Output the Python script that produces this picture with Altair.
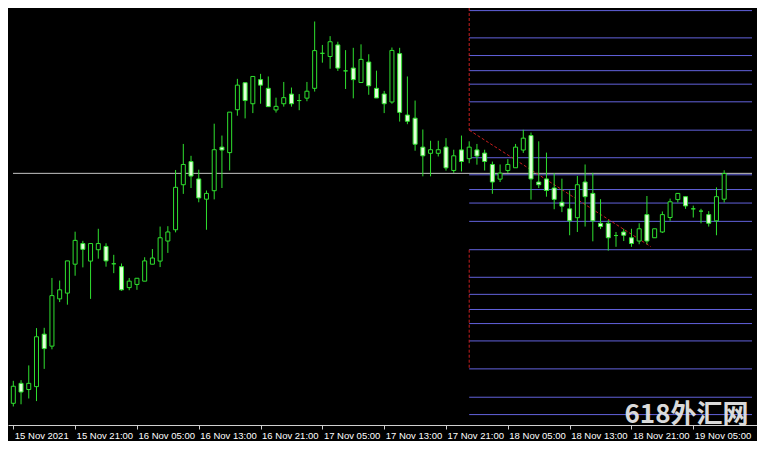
import altair as alt
import pandas as pd

# Hourly bars, index 0 = 15 Nov 2021 13:00. Values are chart levels read from the
# picture (measured downward from the top of the plot, so the y scale is reversed).
kind = ["bull","bear","bull","bull","bear","bull","bull","bull","bull","bear",
        "bull","bull","bear","doji","bear","bull","bull","bull","bull","bull",
        "bull","bull","bull","bear","bear","bull","bull","bear","bull","bull",
        "bear","bull","bear","bear","bull","bull","bear","doji","bull","bull",
        "doji","bull","bear","doji","bear","bull","bear","bear","bear","bull",
        "bear","bear","bear","bear","bull","bull","bear","bull","bear","bull",
        "bear","bear","bear","bull","bull","bull","bull","bear","bear","bear",
        "bear","bear","bear","bull","bear","bear","bear","bear","doji","bear",
        "bear","bull","bear","bull","bull","bull","bull","bear","doji","doji",
        "bear","bull","bull"]
body_top = [392.3,389.3,389.3,341,338.3,298.3,292.3,262.3,241,244.3,
            244.3,244.3,247.3,265.3,268.3,283.3,280.3,262.3,259.3,238.3,
            232.3,186,162.3,159.3,177.3,192.3,147,144.3,108,80,
            77.5,71,74.3,83.3,102,93,89.3,96,86.3,44.2,
            47,35,38.3,65.2,62.3,53.3,56,83.3,89.2,44,
            47.3,111,114.3,144.3,147,147,144.2,153.3,147.2,144.3,
            147.2,150.5,162.3,171.3,162.3,144.3,135,132.3,180.5,177.3,
            186.7,201.5,208.3,183.3,180.5,192.3,223.3,223.3,236,232.3,
            238.3,229,214.3,229,214.3,201,192.3,195.7,208.3,210.7,
            214.3,195.7,171.7]
body_bottom = [410,398.3,395.7,392.7,353.3,350.7,301.7,295.7,265.7,250.3,
               262.5,250.7,262.3,265.3,292.3,290,286.7,283.3,265.7,262.5,
               241.7,230,183.3,174.3,197,198.3,189.5,147.3,150,105.5,
               96,99.3,80,102.3,105.7,99.3,99.3,96,93.5,83.3,
               47,50.3,62.3,65.2,74.3,77.3,80.7,93.3,99.3,97.5,
               108.3,117.5,141.3,153.3,150.7,150.7,165.8,168.5,159.2,156.3,
               153.5,159.2,180.5,177.5,168.5,165.7,147.3,177.3,183.3,189.3,
               198.5,205.5,220.7,217.5,195.7,220.7,226.7,238.3,236,235.7,
               244.3,241.7,241.7,238.3,232.3,217.3,198.7,205.3,208.3,210.7,
               223.3,220.7,198.3]
wick_top = [386.7,386,370.7,332,331.7,280,282.7,262.3,232,241.5,
            244.3,229,244,256,265,280,280.3,258.5,250,226.7,
            226.3,168,141,153.3,167.7,189.3,120,132.3,108,73.5,
            77.5,71,68.3,71,93,76.7,82.5,89.3,76.7,14,
            38.3,29.2,35,43.7,41.3,37.7,48,65,86,41,
            41.3,71,96,126,137.7,137.7,135,147,132.3,138.3,
            141,147,159.3,162.3,156.7,141,126.3,129.2,138.3,150,
            171.3,177,189.2,174.2,162.3,171,198.3,220,232.3,229,
            229,223.3,195,229,211,197.7,192.3,195.7,205,208.3,
            210.7,186,168.3]
wick_bottom = [413.3,411,405,407.7,374.3,354,305,307.7,277.7,269,
               301.7,260,268.3,275,293.3,292.7,292.3,283.3,265.7,268.7,
               254,232.7,192.8,186.7,201.5,230,198.5,186.7,168.5,111.7,
               114.5,109,99.3,102.3,108.5,102.3,102.3,106,96.7,86.7,
               56.7,63,65.3,84,93.7,77.3,90,93.3,109,99.3,
               117.8,120.5,148,174.6,174.6,154,168.7,171,169.5,161,
               162.5,168.5,192.7,180.5,171,165.7,150.3,198.8,186.7,195.7,
               208.7,211.7,235.7,232.3,226.7,242,229.3,251.7,247.7,241.7,
               247.7,245,245,238.3,233.3,220.7,201.7,208.3,217.3,223.3,
               226.7,235.7,201.7]

tick_values = [0, 8, 16, 24, 32, 40, 48, 56, 64, 72, 80, 88]
tick_labels = ["15 Nov 2021", "15 Nov 21:00", "16 Nov 05:00", "16 Nov 13:00",
               "16 Nov 21:00", "17 Nov 05:00", "17 Nov 13:00", "17 Nov 21:00",
               "18 Nov 05:00", "18 Nov 13:00", "18 Nov 21:00", "19 Nov 05:00"]

x_domain = [-0.04, 95.6]
y_domain = [0, 432.5]

# horizontal line (full width)
hline_level = [171.5]
# Fibonacci levels (start at bar 59)
fib_start = 59
fib_levels = [2.7, 31, 49.3, 65, 79, 97.3, 126.7, 155.3, 173, 188.3, 202.3,
              221.3, 250.7, 279.3, 297, 312.7, 327.3, 345.3, 374.3, 403.7, 421.7]
# red dashed segments: (k, k2, v, v2)
red_k = [59, 59, 59]
red_k2 = [59, 59, 82.5]
red_v = [0, 250.7, 126.7]
red_v2 = [126.7, 374.3, 247.5]

watermark = "618外汇网"
wm_k = [79.1]
wm_v = [430]

GREEN = "#2fe02f"
BEAR_FILL = "#e2ffd9"

candles = pd.DataFrame({
    "k": list(range(len(kind))), "kind": kind,
    "v": body_top, "v2": body_bottom,
    "wt": wick_top, "wb": wick_bottom,
})

xscale = alt.Scale(domain=x_domain, nice=False, zero=False)
yscale = alt.Scale(domain=y_domain, nice=False, zero=False, reverse=True)

label_expr = "[" + ",".join("'%s'" % s for s in tick_labels) + "][round(datum.value/8)]"
xaxis = alt.Axis(values=tick_values, labelExpr=label_expr, title=None, grid=False,
                 tickSize=4, labelAlign="left", labelBaseline="top", labelPadding=1,
                 labelOffset=1, labelColor="#ffffff", labelFont="Liberation Sans",
                 labelFontSize=9.5, domainColor="#d0d0d0", tickColor="#d0d0d0",
                 labelFlush=False, labelOverlap=False)

def X():
    return alt.X("k:Q", scale=xscale, axis=xaxis)

def Y(field="v"):
    return alt.Y(field + ":Q", scale=yscale, axis=None)

gray = alt.Chart(pd.DataFrame({"k": [x_domain[0]], "k2": [x_domain[1]], "v": hline_level})).mark_rule(
    color="#c4c4c4", strokeWidth=1, clip=True
).encode(x=X(), x2="k2:Q", y=Y())

fib = alt.Chart(pd.DataFrame({"k": [fib_start] * len(fib_levels),
                              "k2": [x_domain[1]] * len(fib_levels),
                              "v": fib_levels})).mark_rule(
    color="#6262dc", strokeWidth=1, clip=True
).encode(x=X(), x2="k2:Q", y=Y())

red = alt.Chart(pd.DataFrame({"k": red_k, "k2": red_k2, "v": red_v, "v2": red_v2})).mark_rule(
    color="#c81e1e", strokeWidth=1, strokeDash=[3, 2], clip=True
).encode(x=X(), x2="k2:Q", y=Y(), y2="v2:Q")

wicks = alt.Chart(candles).mark_rule(color=GREEN, strokeWidth=1, clip=True).encode(
    x=X(), y=alt.Y("wt:Q", scale=yscale, axis=None), y2="wb:Q"
)

bodies = alt.Chart(candles).mark_bar(size=4, stroke=GREEN, strokeWidth=1, clip=True).encode(
    x=X(), y=Y(), y2="v2:Q",
    fill=alt.Fill("kind:N", scale=alt.Scale(domain=["bull", "bear", "doji"],
                                            range=["#000000", BEAR_FILL, "#000000"]),
                  legend=None),
)

wm = alt.Chart(pd.DataFrame({"k": wm_k, "v": wm_v, "t": [watermark]})).mark_text(
    align="left", baseline="alphabetic", font="Noto Sans CJK SC", fontWeight="bold",
    fontSize=26, color="#e6e6e6", opacity=0.95
).encode(x=X(), y=Y(), text="t:N")

chart = alt.layer(gray, fib, red, wicks, bodies, wm).properties(
    width=749, height=417,
    padding={"left": 0, "right": 0, "top": 0, "bottom": 16},
    autosize=alt.AutoSizeParams(type="none"),
    background="#000000",
).configure_view(strokeWidth=0)

chart.save("out.html", embed_options={"renderer": "svg", "actions": False})
